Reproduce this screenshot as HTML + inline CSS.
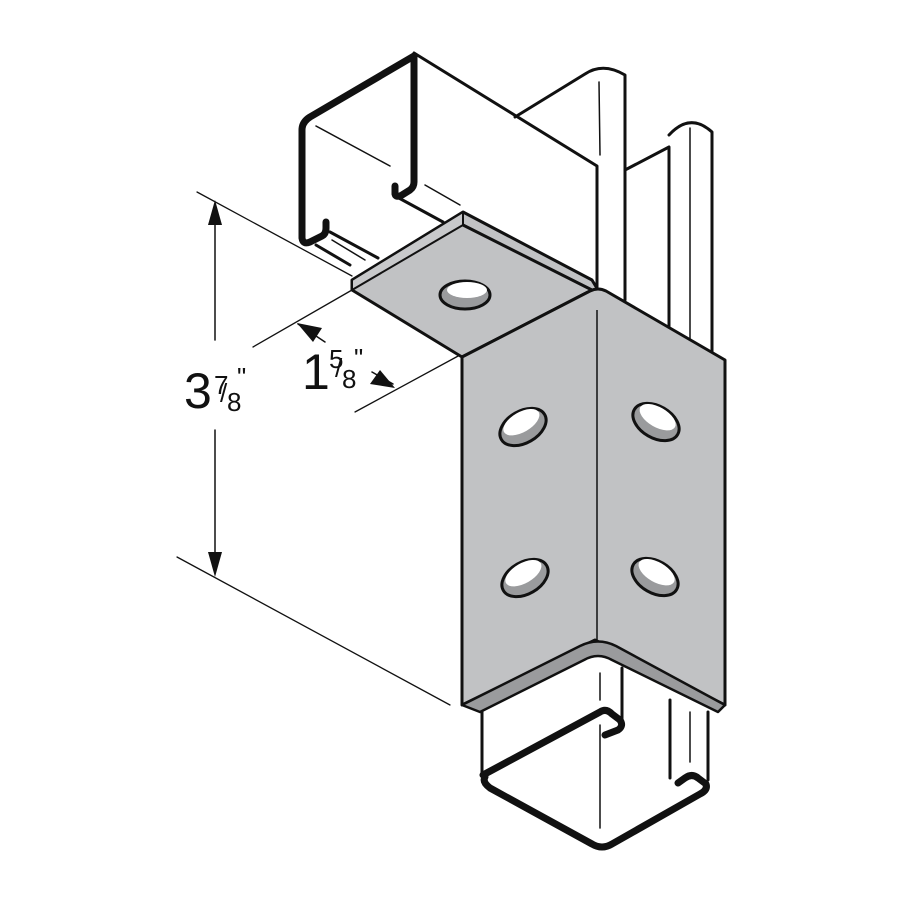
<!DOCTYPE html>
<html><head><style>html,body{margin:0;padding:0;background:#fff}svg{display:block}</style></head>
<body>
<svg width="900" height="900" viewBox="0 0 900 900" xmlns="http://www.w3.org/2000/svg" font-family="Liberation Sans, sans-serif">
<g stroke="#111" fill="none" stroke-linejoin="round" stroke-linecap="round">
<path d="M515,117 L585,74 Q603,62 625,75 L625,300" stroke-width="3" fill="#fff"/>
<path d="M599,82 L600,155" stroke-width="1.5"/>
<path d="M625,170 L669,147 L669,350" stroke-width="3"/>
<path d="M669,135 Q690,112 712,132 L712,355" stroke-width="3"/>
<path d="M690,128 L690,340" stroke-width="1.5"/>
<path d="M414,53 L597,166 L597,290" stroke-width="3"/>
<path d="M397,197 L443,222" stroke-width="3"/>
<path d="M316,245 L350,265" stroke-width="3"/>
<path d="M330,232 L378,258" stroke-width="3"/>
<path d="M316,126 L390,166" stroke-width="1.5"/>
<path d="M425,185 L460,205" stroke-width="1.5"/>
<path d="M332,240 L365,260" stroke-width="1.5"/>
<path d="M395,186 L395,194 Q396,198 402,195 L410,190 Q414,187 414,182 L414,56 L310,117 Q302,122 302,130 L302,238 Q303,245 310,242 L322,236 Q326,234 326,228 L326,222" stroke-width="7"/>
<path d="M197,192 L352,276" stroke-width="1.3"/>
<path d="M177,557 L450,705" stroke-width="1.3"/>
<path d="M215,215 L215,340 M215,430 L215,560" stroke-width="1.5"/>
<path d="M253,347 L352,290" stroke-width="1.3"/>
<path d="M355,412 L460,355" stroke-width="1.3"/>
<path d="M298,324 L325,342 M372,372 L393,384" stroke-width="1.5"/>
</g>
<g fill="#111">
<polygon points="215,200 208,225 222,225"/>
<polygon points="215,577 208,552 222,552"/>
<polygon points="297,323 322,328 313,342"/>
<polygon points="395,388 370,384 380,370"/>
</g>
<g stroke="#111" stroke-linejoin="round" stroke-width="3">
<polygon points="463,212 352,280 352,290 462,357 588,292 598,290 592,280" fill="#c1c2c4"/>
<polygon points="463,212 463,225 352,290 352,280" fill="#c8c9cb" stroke-width="2"/>
<path d="M463,225 L592,290" fill="none" stroke-width="3"/>
<ellipse cx="465" cy="295" rx="25" ry="14" fill="#9a9b9d" stroke-width="3"/>
<ellipse cx="467" cy="290" rx="20" ry="8" fill="#fff" stroke="none"/>
<path d="M462,357 L590,291 Q598,287 606,291 L725,360 L725,705 L595,640 L462,705 Z" fill="#c1c2c4"/>
<path d="M462,705 L580,646 Q598,637 616,646 L725,705 L718,712 L612,660 Q598,652 584,660 L480,712 L462,705 Z" fill="#9a9b9d" stroke-width="2.5"/>
<path d="M597,310 L597,640" stroke-width="1.5" fill="none"/>
<g transform="rotate(-30 523 427)"><ellipse cx="523" cy="427" rx="25" ry="16" fill="#9a9b9d"/><ellipse cx="524" cy="422" rx="20" ry="10" fill="#fff" stroke="none"/></g>
<g transform="rotate(-30 525 578)"><ellipse cx="525" cy="578" rx="25" ry="16" fill="#9a9b9d"/><ellipse cx="526" cy="573" rx="20" ry="10" fill="#fff" stroke="none"/></g>
<g transform="rotate(30 656 422)"><ellipse cx="656" cy="422" rx="25" ry="16" fill="#9a9b9d"/><ellipse cx="655" cy="417" rx="20" ry="10" fill="#fff" stroke="none"/></g>
<g transform="rotate(30 655 577)"><ellipse cx="655" cy="577" rx="25" ry="16" fill="#9a9b9d"/><ellipse cx="654" cy="572" rx="20" ry="10" fill="#fff" stroke="none"/></g>
</g>
<g stroke="#111" fill="none" stroke-linejoin="round" stroke-linecap="round">
<path d="M482,712 L482,775" stroke-width="3"/>
<path d="M622,668 L622,722" stroke-width="3"/>
<path d="M670,700 L670,778" stroke-width="3"/>
<path d="M708,712 L708,780" stroke-width="3"/>
<path d="M690,712 L690,762" stroke-width="1.5"/>
<path d="M600,673 L600,700 M600,725 L600,828" stroke-width="1.5"/>
<path d="M483,775 L600,712 Q606,708 612,714 L620,720 Q624,726 618,730 L605,735 M678,783 L685,778 Q692,773 698,778 L706,784 Q708,790 700,794 L612,844 Q602,850 592,844 L490,788 Q482,782 485,777" stroke-width="7"/>
</g>
<g fill="#111">
<text x="184" y="408" font-size="50">3</text>
<text x="214" y="394" font-size="26">7</text>
<text x="220" y="402" font-size="26">/</text>
<text x="227" y="411" font-size="26">8</text>
<text x="237" y="386" font-size="26">"</text>
<text x="302" y="389" font-size="50">1</text>
<text x="329" y="368" font-size="26">5</text>
<text x="335" y="377" font-size="26">/</text>
<text x="342" y="388" font-size="26">8</text>
<text x="354" y="367" font-size="26">"</text>
</g>
</svg>
</body></html>
